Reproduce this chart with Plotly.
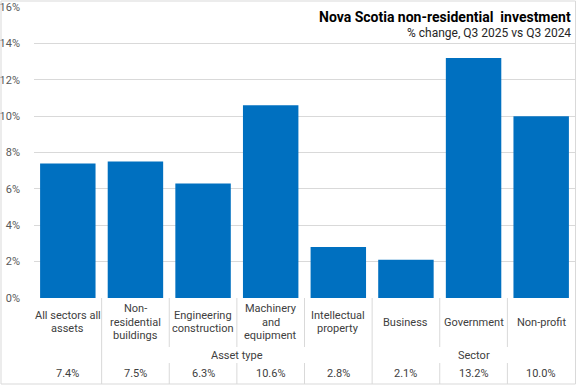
import plotly.graph_objects as go

categories = ["All sectors all<br>assets", "Non-<br>residential<br>buildings", "Engineering<br>construction",
              "Machinery<br>and<br>equipment", "Intellectual<br>property", "Business", "Government", "Non-profit"]
groups = ["", "Asset type", "Asset type", "Asset type", "Asset type", "Sector", "Sector", "Sector"]
values = [7.4, 7.5, 6.3, 10.6, 2.8, 2.1, 13.2, 10.0]
value_labels = ["7.4%", "7.5%", "6.3%", "10.6%", "2.8%", "2.1%", "13.2%", "10.0%"]
y_ticks = [0, 2, 4, 6, 8, 10, 12, 14, 16]

W, H = 576, 385
def px(x): return x / W
def py(y): return 1 - y / H

FONT = "Roboto"
TXT = "#404040"
GRID = "#d9d9d9"
LINE_H = 13.5

xs = list(range(len(categories)))
fig = go.Figure(go.Bar(x=xs, y=values, marker_color="#0070C0", marker_line_width=0, hoverinfo="skip"))

shapes = []
annotations = []
for i, (c, v) in enumerate(zip(categories, value_labels)):
    lines = c.split("<br>")
    n = len(lines)
    for k, ln in enumerate(lines):
        yc = 322 + (k - (n - 1) / 2) * LINE_H
        annotations.append(dict(x=i, xref="x", y=py(yc), yref="paper", text=ln, showarrow=False,
                                font=dict(family=FONT, size=11, color=TXT), yanchor="middle"))
    annotations.append(dict(x=i, xref="x", y=py(373), yref="paper", text=v, showarrow=False,
                            font=dict(family=FONT, size=11, color=TXT), yanchor="middle"))
seen = {}
for i, g in enumerate(groups):
    if g:
        seen.setdefault(g, []).append(i)
for g, idx in seen.items():
    annotations.append(dict(x=(idx[0] + idx[-1]) / 2, xref="x", y=py(355), yref="paper", text=g,
                            showarrow=False, font=dict(family=FONT, size=11, color=TXT), yanchor="middle"))
for i in range(len(categories) - 1):
    xb = i + 0.5
    if groups[i] != groups[i + 1]:
        shapes.append(dict(type="line", xref="x", yref="paper", x0=xb, x1=xb, y0=py(298), y1=py(384),
                           line=dict(color=GRID, width=1)))
    else:
        shapes.append(dict(type="line", xref="x", yref="paper", x0=xb, x1=xb, y0=py(298), y1=py(347),
                           line=dict(color=GRID, width=1)))
        shapes.append(dict(type="line", xref="x", yref="paper", x0=xb, x1=xb, y0=py(363), y1=py(384),
                           line=dict(color=GRID, width=1)))
shapes.append(dict(type="rect", xref="paper", yref="paper", x0=px(1), x1=px(575.5), y0=py(1), y1=py(384),
                   line=dict(color=GRID, width=1)))

annotations.append(dict(x=px(573), y=py(17), xref="paper", yref="paper", xanchor="right", yanchor="middle",
                        text="<b>Nova Scotia non-residential  investment</b>", showarrow=False,
                        font=dict(family=FONT, size=14, color="#000000")))
annotations.append(dict(x=px(573), y=py(33), xref="paper", yref="paper", xanchor="right", yanchor="middle",
                        text="% change, Q3 2025 vs Q3 2024", showarrow=False,
                        font=dict(family=FONT, size=12, color="#262626")))

fig.update_layout(
    width=W, height=H, margin=dict(l=0, r=0, t=0, b=0),
    paper_bgcolor="white", plot_bgcolor="white", showlegend=False, bargap=0.18,
    shapes=shapes, annotations=annotations, hovermode=False,
    xaxis=dict(domain=[px(34), px(575)], range=[-0.5, len(categories) - 0.5], showticklabels=False,
               showgrid=False, zeroline=False, showline=False, fixedrange=True),
    yaxis=dict(domain=[py(298), py(7)], range=[0, 16], tickvals=y_ticks,
               ticktext=[f"{t}%" for t in y_ticks], showgrid=True, gridcolor=GRID, gridwidth=1,
               zeroline=False, showline=False, ticks="", automargin=False, ticklabelstandoff=13,
               fixedrange=True, tickfont=dict(family=FONT, size=11, color="#595959")),
)
fig.write_html("out.html", config={"displayModeBar": False},
               post_script="document.body.style.margin='0';")
